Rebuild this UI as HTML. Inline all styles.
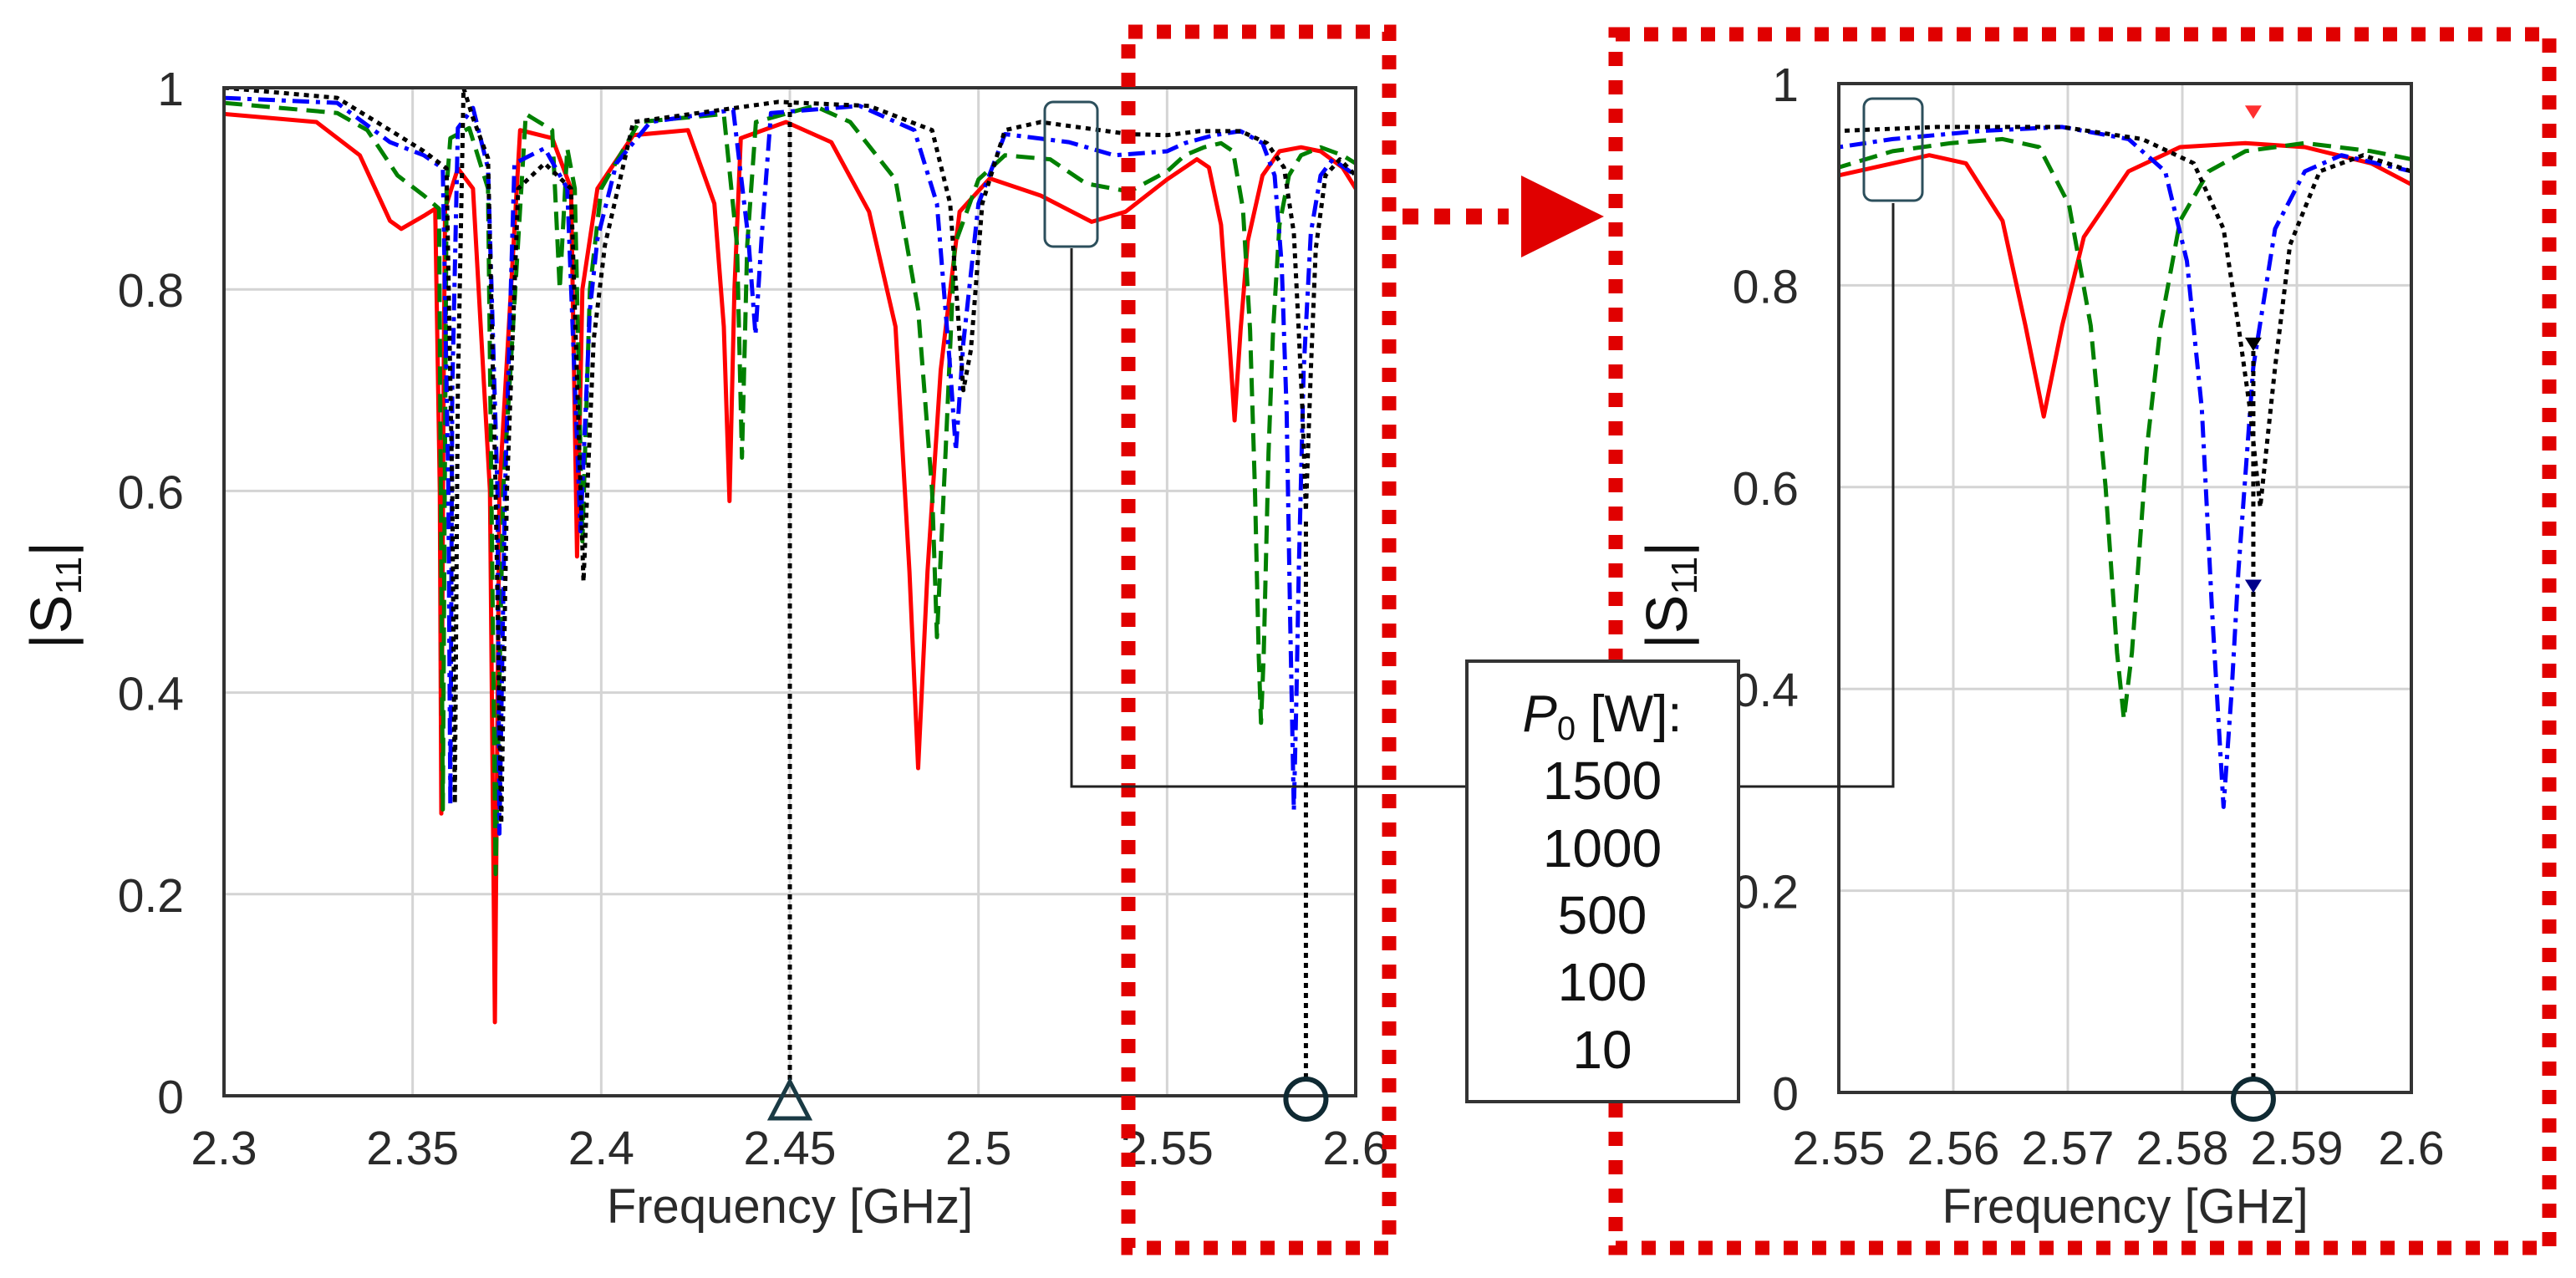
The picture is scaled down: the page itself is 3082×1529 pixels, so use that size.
<!DOCTYPE html>
<html><head><meta charset="utf-8"><style>
html,body{margin:0;padding:0;background:#fff;}
svg{display:block;font-family:"Liberation Sans",Arial,sans-serif;}
</style></head><body>
<svg id="fig" width="3082" height="1529" viewBox="0 0 3082 1529" xmlns="http://www.w3.org/2000/svg">
<defs>
<clipPath id="clipL"><rect x="268" y="105" width="1354" height="1206"/></clipPath>
<clipPath id="clipR"><rect x="2200" y="100" width="685" height="1207"/></clipPath>
</defs>
<g id="gridL"></g>
<g id="gridR"></g>
<g id="seriesL" clip-path="url(#clipL)"></g>
<g id="seriesR" clip-path="url(#clipR)"></g>
<g id="axesL"></g>
<g id="axesR"></g>
<!-- red zoom boxes -->
<rect x="1350" y="38" width="312" height="1455" fill="none" stroke="#e00000" stroke-width="17" stroke-dasharray="17 17"/>
<rect x="1933" y="41" width="1117" height="1452" fill="none" stroke="#e00000" stroke-width="17" stroke-dasharray="17 17"/>
<line x1="1678" y1="259" x2="1805" y2="259" stroke="#e00000" stroke-width="19" stroke-dasharray="19 19"/>
<polygon points="1820,210 1919,259 1820,308" fill="#e00000"/>
<!-- connectors -->
<rect x="1250" y="122" width="63" height="173" rx="10" fill="none" stroke="#2c4f5c" stroke-width="3"/>
<rect x="2230" y="118" width="70" height="122" rx="10" fill="none" stroke="#2c4f5c" stroke-width="3"/>
<polyline points="1282,297 1282,941 1760,941" fill="none" stroke="#222" stroke-width="3"/>
<polyline points="2075,941 2265,941 2265,243" fill="none" stroke="#222" stroke-width="3"/>
<g>
<rect x="1755" y="791" width="325" height="527" fill="#fff" stroke="#333" stroke-width="4"/>
<text x="1917" y="875" font-size="62" text-anchor="middle" fill="#111"><tspan font-style="italic">P</tspan><tspan font-size="40" dy="10">0</tspan><tspan dy="-10"> [W]:</tspan></text>
<text x="1917" y="956" font-size="64" text-anchor="middle" fill="#111">1500</text>
<text x="1917" y="1037" font-size="64" text-anchor="middle" fill="#111">1000</text>
<text x="1917" y="1117" font-size="64" text-anchor="middle" fill="#111">500</text>
<text x="1917" y="1197" font-size="64" text-anchor="middle" fill="#111">100</text>
<text x="1917" y="1278" font-size="64" text-anchor="middle" fill="#111">10</text>
</g>
<g id="marks"></g>
</svg>
<script>
// ---- data ----
const redF = [2.30,2.3245,2.336,2.344,2.347,2.353,2.356,2.3572,2.3576,2.3582,2.3586,2.362,2.366,2.3705,2.3718,2.373,2.3785,2.387,2.392,2.3936,2.395,2.399,2.4085,2.423,2.43,2.4325,2.434,2.4353,2.437,2.449,2.461,2.471,2.478,2.4817,2.484,2.4865,2.49,2.495,2.503,2.5165,2.53,2.539,2.55,2.5579,2.5611,2.5643,2.5663,2.5679,2.5695,2.5714,2.5753,2.5798,2.5855,2.5907,2.5965,2.6];
const redV = [0.974,0.966,0.933,0.868,0.86,0.873,0.88,0.6,0.28,0.7,0.88,0.92,0.9,0.6,0.073,0.6,0.958,0.95,0.9,0.535,0.8,0.9,0.953,0.958,0.885,0.763,0.59,0.80,0.95,0.966,0.946,0.877,0.763,0.52,0.325,0.52,0.72,0.877,0.91,0.893,0.867,0.877,0.909,0.929,0.921,0.864,0.76,0.67,0.76,0.848,0.913,0.937,0.941,0.937,0.921,0.90];
const greenF = [2.30,2.33,2.338,2.346,2.353,2.357,2.358,2.359,2.36,2.365,2.37,2.372,2.374,2.38,2.387,2.389,2.391,2.393,2.395,2.397,2.4,2.41,2.4325,2.436,2.4373,2.4387,2.441,2.4565,2.466,2.478,2.484,2.4877,2.489,2.4913,2.4937,2.5,2.507,2.519,2.5285,2.54,2.55,2.5547,2.5598,2.5643,2.5675,2.5701,2.572,2.5733,2.5743,2.5749,2.5756,2.5769,2.5781,2.5798,2.5823,2.5855,2.5907,2.5965,2.6];
const greenV = [0.985,0.975,0.958,0.913,0.893,0.88,0.284,0.9,0.95,0.96,0.9,0.22,0.6,0.974,0.958,0.80,0.94,0.9,0.55,0.8,0.9,0.966,0.974,0.844,0.633,0.844,0.966,0.982,0.966,0.909,0.78,0.60,0.455,0.64,0.844,0.909,0.933,0.929,0.905,0.897,0.917,0.933,0.941,0.945,0.937,0.88,0.76,0.60,0.436,0.37,0.436,0.638,0.76,0.864,0.913,0.933,0.941,0.933,0.925];
const blueF = [2.30,2.33,2.344,2.353,2.358,2.3595,2.36,2.3605,2.362,2.366,2.37,2.3725,2.373,2.3745,2.377,2.385,2.391,2.3945,2.397,2.399,2.404,2.413,2.435,2.439,2.4409,2.4425,2.445,2.4685,2.483,2.489,2.4925,2.494,2.496,2.5,2.507,2.524,2.536,2.55,2.5547,2.5624,2.5695,2.5753,2.5785,2.5804,2.5817,2.5826,2.5836,2.5843,2.5849,2.5862,2.5881,2.5907,2.5939,2.6];
const blueV = [0.99,0.985,0.946,0.933,0.92,0.6,0.288,0.7,0.96,0.98,0.92,0.6,0.26,0.6,0.925,0.94,0.9,0.56,0.78,0.85,0.925,0.966,0.978,0.85,0.755,0.85,0.975,0.982,0.958,0.885,0.722,0.64,0.747,0.885,0.954,0.946,0.933,0.937,0.945,0.953,0.957,0.945,0.913,0.824,0.678,0.477,0.283,0.396,0.517,0.719,0.856,0.913,0.929,0.913];
const blackF = [2.30,2.33,2.344,2.353,2.359,2.3605,2.3612,2.362,2.3635,2.366,2.37,2.372,2.3735,2.375,2.378,2.385,2.392,2.3953,2.398,2.401,2.4085,2.447,2.471,2.4877,2.4925,2.496,2.498,2.501,2.507,2.5165,2.54,2.55,2.5585,2.5695,2.5765,2.581,2.5836,2.5849,2.5859,2.5868,2.5881,2.5894,2.592,2.5958,2.6];
const blackV = [1.0,0.99,0.958,0.937,0.92,0.6,0.29,0.7,1.0,0.97,0.93,0.6,0.27,0.6,0.9,0.925,0.9,0.51,0.75,0.844,0.966,0.986,0.982,0.958,0.885,0.70,0.74,0.885,0.958,0.966,0.954,0.953,0.957,0.957,0.945,0.921,0.856,0.76,0.678,0.58,0.719,0.84,0.913,0.929,0.913];
const xTicksL = [2.3,2.35,2.4,2.45,2.5,2.55,2.6];
const xTickLabelsL = ["2.3","2.35","2.4","2.45","2.5","2.55","2.6"];
const xTicksR = [2.55,2.56,2.57,2.58,2.59,2.6];
const xTickLabelsR = ["2.55","2.56","2.57","2.58","2.59","2.6"];
const yTicks = [0,0.2,0.4,0.6,0.8,1];
const yTickLabels = ["0","0.2","0.4","0.6","0.8","1"];
const markerL = [2.45, 2.5868];
const markerR = [2.5862];

const NS = "http://www.w3.org/2000/svg";
function mk(tag, attrs, parent){const e=document.createElementNS(NS,tag);for(const k in attrs)e.setAttribute(k,attrs[k]);parent.appendChild(e);return e;}
const L = {x0:268,x1:1622,y0:1311,y1:105,f0:2.3,f1:2.6};
const R = {x0:2200,x1:2885,y0:1307,y1:100,f0:2.55,f1:2.6};
function sx(p,f){return p.x0+(f-p.f0)/(p.f1-p.f0)*(p.x1-p.x0);}
function sy(p,v){return p.y0+(v)*(p.y1-p.y0);}

const series = [
 {name:"red", F:redF, V:redV, color:"#ff0000", dash:""},
 {name:"green", F:greenF, V:greenV, color:"#008000", dash:"22 11"},
 {name:"blue", F:blueF, V:blueV, color:"#0000ff", dash:"20 8 5 8"},
 {name:"black", F:blackF, V:blackV, color:"#000000", dash:"6 6"}
];

function drawPlot(p, gridG, seriesG, axesG, xt, xtl, side, cutoff){
  // grid
  xt.forEach((t,i)=>{ if(i>0 && i<xt.length-1){
    const g=mk("line",{x1:sx(p,t),x2:sx(p,t),y1:p.y1,y2:p.y0,stroke:"#d4d4d4","stroke-width":3},gridG);
    
    
  }});
  yTicks.forEach((t,i)=>{ if(i>0 && i<yTicks.length-1){
    const g=mk("line",{x1:p.x0,x2:p.x1,y1:sy(p,t),y2:sy(p,t),stroke:"#d4d4d4","stroke-width":3},gridG);
    
    
  }});
  // series
  series.forEach(s=>{
    let pts=[];
    for(let i=0;i<s.F.length;i++){
      if(s.F[i] < cutoff && !(i+1<s.F.length && s.F[i+1]>=cutoff)) continue;
      pts.push(sx(p,s.F[i]).toFixed(1)+","+sy(p,s.V[i]).toFixed(1));
    }
    const a={points:pts.join(" "),fill:"none",stroke:s.color,"stroke-width":5,"stroke-linejoin":"round"};
    if(s.dash) a["stroke-dasharray"]=s.dash;
    const pl=mk("polyline",a,seriesG);
    
    
  });
  // frame
  const fr=mk("rect",{x:p.x0,y:p.y1,width:p.x1-p.x0,height:p.y0-p.y1,fill:"none",stroke:"#333","stroke-width":4},axesG);
  
  
  xt.forEach((t,i)=>{
    const tx=mk("text",{x:sx(p,t),y:1393,"font-size":57,"text-anchor":"middle",fill:"#2a2a2a"},axesG);
    tx.textContent=xtl[i];
    
    
  });
  yTicks.forEach((t,i)=>{
    const tx=mk("text",{x:p.x0-48,y:sy(p,t)+21,"font-size":57,"text-anchor":"end",fill:"#2a2a2a"},axesG);
    tx.textContent=yTickLabels[i];
    
    
  });
  const xl=mk("text",{x:(p.x0+p.x1)/2,y:1463,"font-size":58,"text-anchor":"middle",fill:"#2a2a2a"},axesG);
  xl.textContent="Frequency [GHz]";
  
  
  const yx = side==="left"?85:2018;
  const yl=mk("text",{x:yx,y:712,"font-size":70,"text-anchor":"middle",fill:"#111",transform:"rotate(-90 "+yx+" 712)"},axesG);
  yl.innerHTML='|S<tspan font-size="44" dy="12">11</tspan><tspan dy="-12">|</tspan>';
  
  
}
drawPlot(L,document.getElementById("gridL"),document.getElementById("seriesL"),document.getElementById("axesL"),xTicksL,xTickLabelsL,"left",0);
drawPlot(R,document.getElementById("gridR"),document.getElementById("seriesR"),document.getElementById("axesR"),xTicksR,xTickLabelsR,"right",2.55);

const marks=document.getElementById("marks");
// left triangle at 2.45
const tX=sx(L,markerL[0]);
const d1=mk("line",{x1:tX,x2:tX,y1:1292,y2:sy(L,0.985),stroke:"#000","stroke-width":5,"stroke-dasharray":"6 6"},marks);


const tri=mk("polygon",{points:(tX-23)+",1338 "+(tX+23)+",1338 "+tX+",1294",fill:"none",stroke:"#1a3a44","stroke-width":5},marks);


// left circle
const cX=sx(L,markerL[1]);
const d2=mk("line",{x1:cX,x2:cX,y1:1290,y2:sy(L,0.57),stroke:"#000","stroke-width":5,"stroke-dasharray":"6 6"},marks);


const c1=mk("circle",{cx:cX,cy:1315,r:24,fill:"none",stroke:"#0f2a33","stroke-width":6},marks);


// right circle
const rX=sx(R,markerR[0]);
const d3=mk("line",{x1:rX,x2:rX,y1:1290,y2:sy(R,0.74),stroke:"#000","stroke-width":5,"stroke-dasharray":"6 6"},marks);


const c2=mk("circle",{cx:rX,cy:1315,r:24,fill:"none",stroke:"#0f2a33","stroke-width":6},marks);


[[0.735,"#000"],[0.495,"#00008b"],[0.965,"#ff3030"]].forEach(m=>{
  const y=sy(R,m[0]);
  const a=mk("polygon",{points:(rX-10)+","+(y-16)+" "+(rX+10)+","+(y-16)+" "+rX+","+y,fill:m[1]},marks);
  
  
});
</script>
</body></html>
